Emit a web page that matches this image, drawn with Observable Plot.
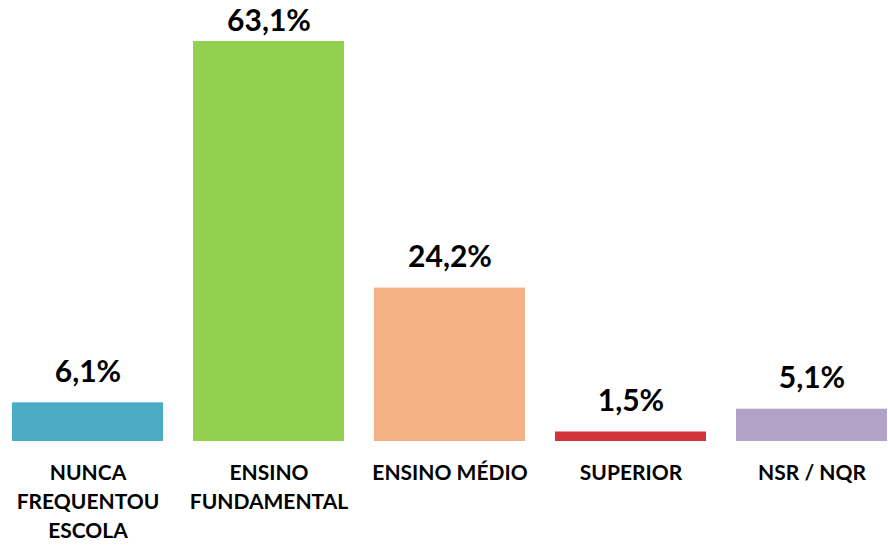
<!DOCTYPE html>
<html>
<head>
<meta charset="utf-8">
<script src="https://cdn.jsdelivr.net/npm/d3@7"></script>
<script src="https://cdn.jsdelivr.net/npm/@observablehq/plot@0.6"></script>
<style>
  html, body { margin: 0; padding: 0; background: #fff; }
  #chart svg { display: block; }
</style>
</head>
<body>
<div id="chart"></div>
<script>
const categories = ["NUNCA FREQUENTOU ESCOLA", "ENSINO FUNDAMENTAL", "ENSINO MÉDIO", "SUPERIOR", "NSR / NQR"];
const tickLabels = ["NUNCA\nFREQUENTOU\nESCOLA", "ENSINO\nFUNDAMENTAL", "ENSINO MÉDIO", "SUPERIOR", "NSR / NQR"];
const values = [6.1, 63.1, 24.2, 1.5, 5.1];
const colors = ["#4BACC6", "#92D050", "#F4B183", "#D13438", "#B3A2C7"];

const data = categories.map((c, i) => ({
  cat: c,
  label: tickLabels[i],
  value: values[i],
  text: values[i].toFixed(1).replace(".", ",") + "%"
}));
const maxV = d3.max(values);

const font = "Lato, 'Open Sans', sans-serif";

const chart = Plot.plot({
  width: 888,
  height: 549,
  marginTop: 41,
  marginBottom: 108,
  marginLeft: 0,
  marginRight: 0,
  style: { fontFamily: font, background: "#fff" },
  x: { domain: categories, range: [12, 887], paddingInner: 30 / 181, paddingOuter: 0, axis: null },
  y: { domain: [0, maxV], axis: null },
  color: { domain: categories, range: colors },
  marks: [
    Plot.barY(data, { x: "cat", y: "value", fill: "cat" }),
    Plot.text(data.filter(d => d.value !== maxV), {
      x: "cat", y: "value", text: "text", lineAnchor: "bottom", dy: -21,
      fontSize: 30, fontWeight: "bold", fill: "#000"
    }),
    Plot.text(data.filter(d => d.value === maxV), {
      x: "cat", y: "value", text: "text", lineAnchor: "bottom", dy: -11,
      fontSize: 30, fontWeight: "bold", fill: "#000"
    }),
    Plot.text(data, {
      x: "cat", y: () => 0, text: "label", lineAnchor: "top", dy: 17.5, lineHeight: 1.38,
      fontSize: 21, fontWeight: "bold", fill: "#000"
    })
  ]
});
document.getElementById("chart").appendChild(chart);
</script>
</body>
</html>
